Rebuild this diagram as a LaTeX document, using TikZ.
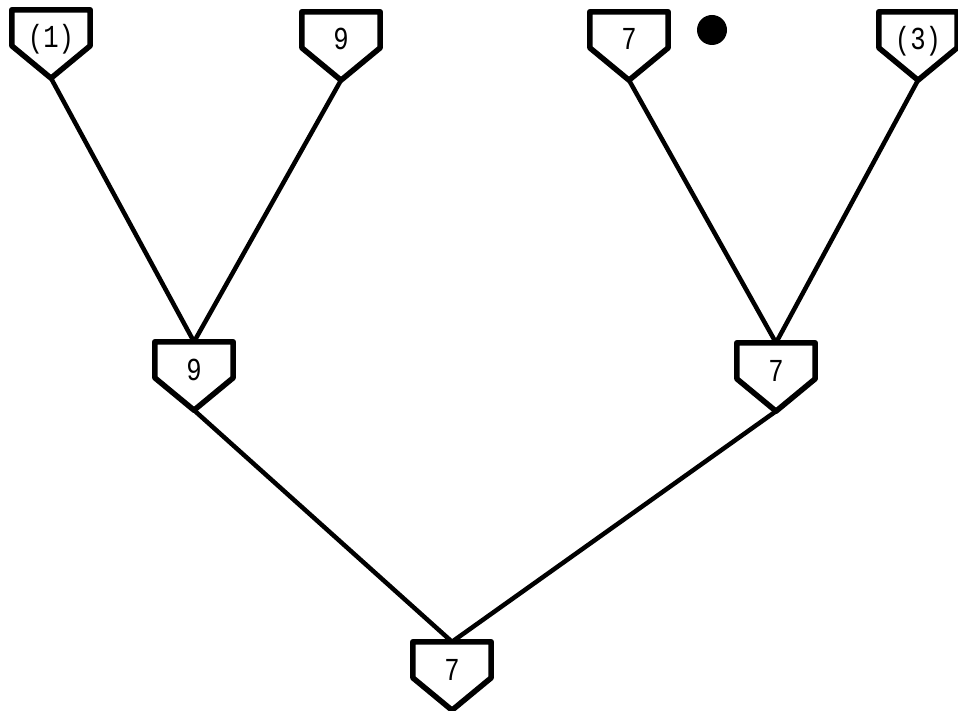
\documentclass[tikz,border=0pt]{standalone}
\usepackage{fontspec}
\setmonofont{Liberation Mono}[FakeStretch=0.8]
\usetikzlibrary{calc}
\tikzset{
  hpbox/.style={rectangle, minimum width=78pt, minimum height=68pt, inner sep=0pt,
    font=\ttfamily\fontsize{32}{32}\selectfont},
  hpline/.style={line width=5.5pt, line join=round},
  edge/.style={line width=4.5pt},
}
\newcommand{\plate}[1]{%
  \draw[hpline] (#1.north west) -- (#1.north east) -- ($(#1.north east)+(0,36)$)
    -- (#1.south) -- ($(#1.north west)+(0,36)$) -- cycle;}
\newcommand{\lbl}[1]{\raisebox{-4pt}[0pt][0pt]{#1}}
\begin{document}
\begin{tikzpicture}[x=1pt,y=-1pt]
\useasboundingbox (0,0) rectangle (958,711);
\node[hpbox] (a) at (51,44) {\lbl{(1)}};
\node[hpbox] (b) at (341,46) {\lbl{9}};
\node[hpbox] (c) at (629,46) {\lbl{7}};
\node[hpbox] (d) at (918,46) {\lbl{(3)}};
\node[hpbox] (e) at (194,376) {\lbl{9}};
\node[hpbox] (f) at (776,377) {\lbl{7}};
\node[hpbox] (g) at (452,676) {\lbl{7}};
\foreach \n in {a,b,c,d,e,f,g} {\plate{\n}}
\draw[edge] (a.south) -- (e.north);
\draw[edge] (b.south) -- (e.north);
\draw[edge] (c.south) -- (f.north);
\draw[edge] (d.south) -- (f.north);
\draw[edge] (e.south) -- (g.north);
\draw[edge] (f.south) -- (g.north);
\fill (712,30) circle (15);
\end{tikzpicture}
\end{document}
